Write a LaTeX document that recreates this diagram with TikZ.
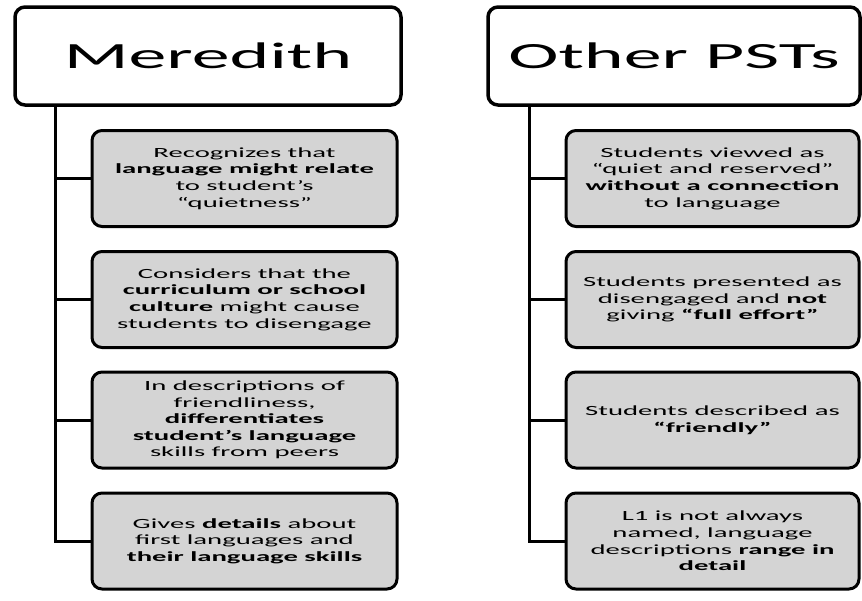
\documentclass[tikz,border=0pt]{standalone}
\usepackage{fontspec}
\setmainfont{Carlito}[FakeStretch=2.05]
\begin{document}
\begin{tikzpicture}[x=1pt,y=-1pt,
  header/.style={draw=black,line width=3.5pt,fill=white,rounded corners=10pt,
    minimum height=98pt,inner sep=0pt,font=\fontsize{37}{40}\selectfont},
  item/.style={draw=black,line width=3pt,fill=black!17,rounded corners=10pt,
    minimum height=96pt,inner sep=0pt,align=center,
    font=\fontsize{14}{16.6}\selectfont},
  link/.style={line width=3pt,line cap=rect}]
\fill[white] (0,0) rectangle (862,600);
\useasboundingbox (0,0) rectangle (862,600);
% left column
\node[header,minimum width=386pt] (mh) at (208,56) {Meredith};
\node[item,minimum width=305pt] (m1) at (244.5,178.5)
  {Recognizes that\\\textbf{language might relate}\\to student’s\\“quietness”};
\node[item,minimum width=305pt] (m2) at (244.5,299.5)
  {Considers that the\\\textbf{curriculum or school}\\\textbf{culture} might cause\\students to disengage};
\node[item,minimum width=305pt] (m3) at (244.5,420)
  {In descriptions of\\friendliness,\\\textbf{differentiates}\\\textbf{student’s language}\\skills from peers};
\node[item,minimum width=305pt] (m4) at (244.5,541)
  {Gives \textbf{details} about\\first languages and\\\textbf{their language skills}};
\coordinate (lt) at (55,0);
\draw[link] (mh.south -| lt) |- (m4.west);
\draw[link] (m1.west -| lt) -- (m1.west);
\draw[link] (m2.west -| lt) -- (m2.west);
\draw[link] (m3.west -| lt) -- (m3.west);
% right column
\node[header,minimum width=372pt] (oh) at (674,56) {Other PSTs};
\node[item,minimum width=293pt] (o1) at (712.5,178.5)
  {Students viewed as\\“quiet and reserved”\\\textbf{without a connection}\\to language};
\node[item,minimum width=293pt] (o2) at (712.5,299.5)
  {Students presented as\\disengaged and \textbf{not}\\giving \textbf{“full effort”}};
\node[item,minimum width=293pt] (o3) at (712.5,420)
  {Students described as\\\textbf{“friendly”}};
\node[item,minimum width=293pt] (o4) at (712.5,541)
  {L1 is not always\\named, language\\descriptions \textbf{range in}\\\textbf{detail}};
\coordinate (rt) at (529,0);
\draw[link] (oh.south -| rt) |- (o4.west);
\draw[link] (o1.west -| rt) -- (o1.west);
\draw[link] (o2.west -| rt) -- (o2.west);
\draw[link] (o3.west -| rt) -- (o3.west);
\end{tikzpicture}
\end{document}
